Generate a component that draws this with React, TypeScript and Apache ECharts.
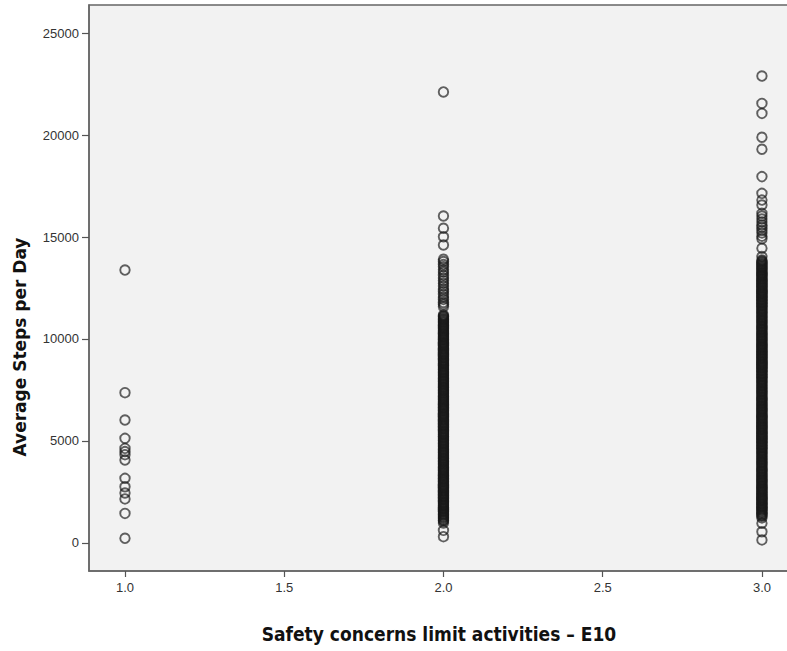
import React, { useEffect, useRef } from "react";
import * as echarts from "echarts";

const yTicks = [0, 5000, 10000, 15000, 20000, 25000];
const xTicks = [1.0, 1.5, 2.0, 2.5, 3.0];

const group1Values = [13380, 7370, 6030, 5130, 4640, 4480, 4330, 4070, 3170, 2760, 2450, 2160, 1450, 230];

const group2Values = [
  22110, 16030, 15430, 15015, 14610,
  13910, 13800, 13650, 13540, 13390, 13280, 13120, 12990, 12860, 12730, 12600, 12450, 12330, 12190, 12060, 11940, 11790, 11690, 11580,
  11180, 11130, 11090, 11030, 10980, 10940, 10890, 10840, 10800, 10740, 10690, 10650, 10600, 10550, 10510, 10450, 10400, 10360,
  10310, 10260, 10220, 10160, 10110, 10070, 10020, 9970, 9930, 9870, 9820, 9780, 9730, 9680, 9640, 9580, 9530, 9490, 9440, 9390,
  9350, 9290, 9240, 9200, 9150, 9100, 9060, 9000, 8950, 8910, 8860, 8810, 8770, 8710, 8660, 8620, 8570, 8520, 8480, 8420, 8370,
  8330, 8280, 8230, 8190, 8130, 8080, 8040, 7990, 7940, 7900, 7840, 7790, 7750, 7700, 7650, 7610, 7550, 7500, 7460, 7410, 7360,
  7320, 7260, 7210, 7170, 7120, 7070, 7030, 6970, 6920, 6880, 6830, 6780, 6740, 6680, 6630, 6590, 6540, 6490, 6450, 6390, 6340,
  6300, 6250, 6200, 6160, 6100, 6050, 6010, 5960, 5910, 5870, 5810, 5760, 5720, 5670, 5620, 5580, 5520, 5470, 5430, 5380, 5330,
  5290, 5230, 5180, 5140, 5090, 5040, 5000, 4940, 4890, 4850, 4800, 4750, 4710, 4650, 4600, 4560, 4510, 4460, 4420, 4360, 4310,
  4270, 4220, 4170, 4130, 4070, 4020, 3980, 3930, 3880, 3840, 3780, 3730, 3690, 3640, 3590, 3550, 3490, 3440, 3400, 3350, 3300,
  3260, 3200, 3150, 3110, 3060, 3010, 2970, 2910, 2860, 2820, 2770, 2720, 2680, 2620, 2570, 2530, 2480, 2430, 2390, 2330, 2280,
  2240, 2190, 2140, 2100, 2040, 1990, 1950, 1900, 1850, 1810, 1750, 1700, 1660, 1610, 1560, 1520, 1460, 1410, 1370, 1320, 1270,
  1230, 1170, 1120, 1080, 980, 620, 310,
];

const group3Values = [
  22890, 21550, 21060, 19890, 19300, 17960, 17140, 16810, 16570,
  16160, 16030, 15880, 15740, 15590, 15470, 15320, 15200, 15040, 14920, 14450, 14040,
  13870, 13820, 13780, 13730, 13680, 13640, 13580, 13530, 13490, 13440, 13390, 13350, 13290, 13240, 13200, 13150, 13100, 13060,
  13000, 12950, 12910, 12860, 12810, 12770, 12710, 12660, 12620, 12570, 12520, 12480, 12420, 12370, 12330, 12280, 12230, 12190,
  12130, 12080, 12040, 11990, 11940, 11900, 11840, 11790, 11750, 11700, 11650, 11610, 11550, 11500, 11460, 11410, 11360, 11320,
  11260, 11210, 11170, 11120, 11070, 11030, 10970, 10920, 10880, 10830, 10780, 10740, 10680, 10630, 10590, 10540, 10490, 10450,
  10390, 10340, 10300, 10250, 10200, 10160, 10100, 10050, 10010, 9960, 9910, 9870, 9810, 9760, 9720, 9670, 9620, 9580, 9520,
  9470, 9430, 9380, 9330, 9290, 9230, 9180, 9140, 9090, 9040, 9000, 8940, 8890, 8850, 8800, 8750, 8710, 8650, 8600, 8560, 8510,
  8460, 8420, 8360, 8310, 8270, 8220, 8170, 8130, 8070, 8020, 7980, 7930, 7880, 7840, 7780, 7730, 7690, 7640, 7590, 7550, 7490,
  7440, 7400, 7350, 7300, 7260, 7200, 7150, 7110, 7060, 7010, 6970, 6910, 6860, 6820, 6770, 6720, 6680, 6620, 6570, 6530, 6480,
  6430, 6390, 6330, 6280, 6240, 6190, 6140, 6100, 6040, 5990, 5950, 5900, 5850, 5810, 5750, 5700, 5660, 5610, 5560, 5520, 5460,
  5410, 5370, 5320, 5270, 5230, 5170, 5120, 5080, 5030, 4980, 4940, 4880, 4830, 4790, 4740, 4690, 4650, 4590, 4540, 4500, 4450,
  4400, 4360, 4300, 4250, 4210, 4160, 4110, 4070, 4010, 3960, 3920, 3870, 3820, 3780, 3720, 3670, 3630, 3580, 3530, 3490, 3430,
  3380, 3340, 3290, 3240, 3200, 3140, 3090, 3050, 3000, 2950, 2910, 2850, 2800, 2760, 2710, 2660, 2620, 2560, 2510, 2470, 2420,
  2370, 2330, 2270, 2220, 2180, 2130, 2080, 2040, 1980, 1930, 1890, 1840, 1790, 1750, 1690, 1640, 1600, 1550, 1500, 1460, 1400,
  1350, 1310, 1230, 970, 550, 150,
];

const groupX = [1.0, 2.0, 3.0];
const groups = [group1Values, group2Values, group3Values];

const xTitle = "Safety concerns limit activities – E10";
const yTitle = "Average Steps per Day";

export default function App() {
  const ref = useRef<HTMLDivElement>(null);
  useEffect(() => {
    if (!ref.current) return;
    const chart = echarts.init(ref.current, undefined, { renderer: "svg" });
    const data: number[][] = [];
    groups.forEach((vals, i) => vals.forEach((v) => data.push([groupX[i], v])));
    const labelStyle = {
      color: "#333",
      fontFamily: "Liberation Sans, Arial, sans-serif",
      fontSize: 13,
    };
    chart.setOption({
      animation: false,
      backgroundColor: "#ffffff",
      grid: {
        left: 89,
        right: -2,
        top: 5,
        bottom: 80,
        containLabel: false,
        outerBoundsMode: "none",
        show: true,
        backgroundColor: "#f2f2f2",
        borderColor: "#666",
        borderWidth: 1.5,
      },
      xAxis: {
        type: "value",
        min: 0.887,
        max: 3.085,
        name: xTitle,
        nameLocation: "middle",
        nameGap: 53,
        nameTextStyle: {
          color: "#111",
          fontFamily: "Liberation Sans Narrow, DejaVu Sans Condensed, Arial, sans-serif",
          fontWeight: "bold",
          fontSize: 19,
        },
        axisLine: { show: true, onZero: false, lineStyle: { color: "#666", width: 1.5 } },
        axisTick: { show: true, length: 6, lineStyle: { color: "#555", width: 1.2 }, customValues: xTicks },
        axisLabel: { ...labelStyle, margin: 10, customValues: xTicks, formatter: (v: number) => v.toFixed(1) },
        splitLine: { show: false },
      },
      yAxis: {
        type: "value",
        min: -1373,
        max: 26373,
        axisLine: { show: true, onZero: false, lineStyle: { color: "#666", width: 1.5 } },
        axisTick: { show: true, length: 7, lineStyle: { color: "#555", width: 1.2 }, customValues: yTicks },
        axisLabel: { ...labelStyle, margin: 10, customValues: yTicks, formatter: (v: number) => String(v) },
        splitLine: { show: false },
      },
      graphic: [
        {
          type: "text",
          x: 20,
          y: 347,
          rotation: Math.PI / 2,
          style: {
            text: yTitle,
            fill: "#111",
            font: "bold 17px 'DejaVu Sans', sans-serif",
            textAlign: "center",
            textVerticalAlign: "middle",
          },
        },
      ],
      series: [
        {
          type: "scatter",
          data,
          symbol: "circle",
          symbolSize: 9.5,
          itemStyle: {
            color: "rgba(0,0,0,0)",
            borderColor: "rgba(25,25,25,0.85)",
            borderWidth: 1.9,
          },
        },
      ],
    });
    return () => chart.dispose();
  }, []);
  return <div ref={ref} style={{ width: 787, height: 651, position: "absolute", left: 0, top: 0 }} />;
}
